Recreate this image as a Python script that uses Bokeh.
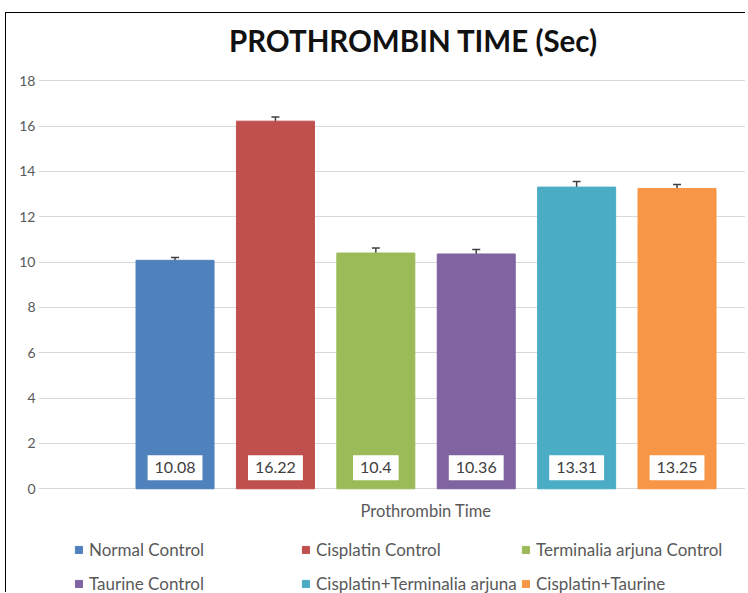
from bokeh.plotting import figure
from bokeh.models import ColumnDataSource, Whisker, TeeHead, Label, Legend, LegendItem, FixedTicker
from bokeh.core.properties import value
from bokeh.embed import file_html
from bokeh.resources import INLINE

# ---- data ----
groups = ["Normal Control", "Cisplatin Control", "Terminalia arjuna Control",
          "Taurine Control", "Cisplatin+Terminalia arjuna", "Cisplatin+Taurine"]
means = [10.08, 16.22, 10.4, 10.36, 13.31, 13.25]
errors = [0.12, 0.18, 0.22, 0.2, 0.25, 0.17]
value_labels = ["10.08", "16.22", "10.4", "10.36", "13.31", "13.25"]
colors = ["#4F81BD", "#C0504D", "#9BBB59", "#8064A2", "#4BACC6", "#F79646"]
y_ticks = [0, 2, 4, 6, 8, 10, 12, 14, 16, 18]
title_text = "PROTHROMBIN TIME (Sec)"
x_title = "Prothrombin Time"

FONT = "Lato"
GRAY = "#595959"

src = ColumnDataSource(dict(
    x=list(range(len(groups))),
    top=means,
    upper=[m + e for m, e in zip(means, errors)],
    lower=[m - e for m, e in zip(means, errors)],
    label=value_labels,
    color=colors,
    group=groups,
))

p = figure(width=740, height=580, x_range=(-1.36, 5.692), y_range=(-4.62, 20.97),
           x_axis_location=None, output_backend="svg", toolbar_location=None,
           min_border_left=32, min_border_right=0, min_border_top=0, min_border_bottom=0)
p.outline_line_color = None
p.background_fill_color = "white"
p.border_fill_color = "white"
p.xgrid.grid_line_color = None

ax = p.yaxis[0]
ax.ticker = FixedTicker(ticks=y_ticks)
ax.axis_line_color = None
ax.major_tick_line_color = None
ax.minor_tick_line_color = None
ax.major_tick_in = 0
ax.major_tick_out = 0
ax.major_label_standoff = 3
ax.major_label_text_font = FONT
ax.major_label_text_font_size = "14px"
ax.major_label_text_color = GRAY
p.ygrid.grid_line_color = "#d9d9d9"
p.ygrid.grid_line_width = 1

bars = p.vbar(x="x", top="top", width=0.777, fill_color="color", line_color="color", source=src)

p.add_layout(Whisker(base="x", upper="upper", lower="lower", source=src,
                     line_color="#404040", line_width=1.5,
                     upper_head=TeeHead(size=8, line_color="#404040", line_width=1.5),
                     lower_head=TeeHead(size=8, line_color="#404040", line_width=1.5)))

p.text(x="x", y=0.93, text="label", source=src, text_align="center", text_baseline="middle",
       text_font=value(FONT), text_font_size="16px", text_color="#404040",
       background_fill_color="white", padding=7)

p.add_layout(Label(x=2.375, y=19.8, text=title_text, text_align="center", text_baseline="middle",
                   text_font=FONT, text_font_size="29.5px", text_font_style="bold", text_color="#111111"))
p.add_layout(Label(x=2.5, y=-0.97, text=x_title, text_align="center", text_baseline="middle",
                   text_font=FONT, text_font_size="16.5px", text_color=GRAY))

col_x = [36, 263, 483]
for c in range(3):
    items = [LegendItem(label=groups[c], renderers=[bars], index=c),
             LegendItem(label=groups[c + 3], renderers=[bars], index=c + 3)]
    leg = Legend(items=items, location=(col_x[c], -1), orientation="vertical",
                 border_line_color=None, background_fill_alpha=0, padding=0, margin=0,
                 spacing=13, label_height=17, label_standoff=6, glyph_width=9, glyph_height=9,
                 label_text_font=FONT, label_text_font_size="17px", label_text_color=GRAY)
    p.add_layout(leg)

p.styles = {"border-top": "1px solid #000", "border-left": "1px solid #000",
            "margin-left": "5px", "margin-top": "12px"}

open("out.html", "w").write(file_html(p, INLINE))
